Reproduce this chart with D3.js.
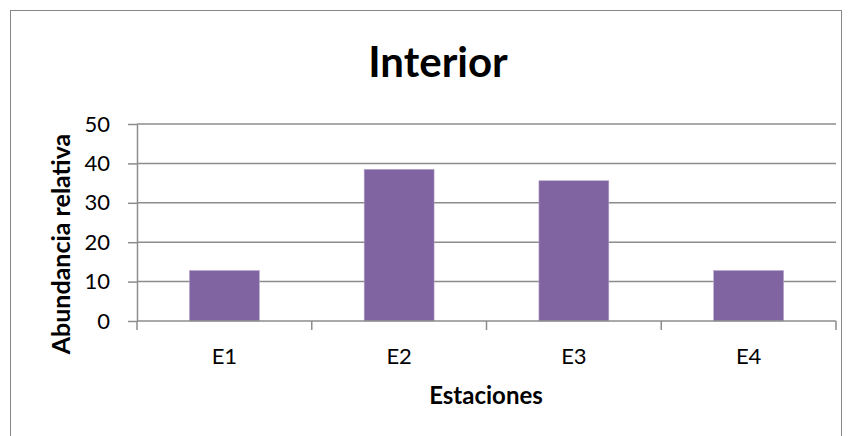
<!DOCTYPE html>
<html>
<head>
<meta charset="utf-8">
<script src="https://cdn.jsdelivr.net/npm/d3@7"></script>
<style>
  html, body { margin: 0; padding: 0; background: #fff; }
  svg { display: block; }
</style>
</head>
<body>
<svg id="chart" width="852" height="436"></svg>
<script>
// Relative abundance per station
const estaciones = ["E1", "E2", "E3", "E4"];
const abundancia = [12.8, 38.5, 35.6, 12.8];
const yTicks = [0, 10, 20, 30, 40, 50];

const svg = d3.select("#chart");
const plot = { left: 137, right: 836, top: 124, bottom: 321 };
const FONT = "Lato, 'Open Sans', sans-serif";
const AXIS = "#8c8c8c";

// Outer chart frame (bottom edge runs off the page)
svg.append("rect")
  .attr("x", 10.5).attr("y", 10.5)
  .attr("width", 831).attr("height", 440)
  .attr("fill", "#fff")
  .attr("stroke", "#868686").attr("stroke-width", 1);

const x = d3.scaleBand()
  .domain(estaciones)
  .range([plot.left, plot.right])
  .paddingInner(0.6).paddingOuter(0.3);

const y = d3.scaleLinear()
  .domain([0, 50])
  .range([plot.bottom, plot.top]);

// Horizontal gridlines
svg.append("g")
  .selectAll("line")
  .data(yTicks.filter(d => d > 0))
  .join("line")
  .attr("x1", plot.left).attr("x2", plot.right)
  .attr("y1", d => y(d)).attr("y2", d => y(d))
  .attr("stroke", AXIS).attr("stroke-width", 1.5);

// Bars
svg.append("g")
  .selectAll("rect")
  .data(abundancia)
  .join("rect")
  .attr("x", (d, i) => x(estaciones[i]))
  .attr("y", d => y(d))
  .attr("width", x.bandwidth())
  .attr("height", d => y(0) - y(d))
  .attr("fill", "#8064a2")
  .attr("stroke", "#b7a6cc").attr("stroke-width", 0.6);

// Y axis
const yAxis = d3.axisLeft(y).tickValues(yTicks).tickSize(9).tickSizeOuter(0).tickPadding(18);
const gy = svg.append("g")
  .attr("transform", `translate(${plot.left},0)`)
  .call(yAxis);
gy.select(".domain").attr("stroke", AXIS).attr("stroke-width", 1.5);
gy.selectAll(".tick line").attr("stroke", AXIS).attr("stroke-width", 1.5);
gy.selectAll(".tick text")
  .attr("font-family", FONT)
  .attr("font-size", 22).attr("fill", "#000");

// X axis: ticks at category boundaries, labels centred in each band
const step = (plot.right - plot.left) / estaciones.length;
const gx = svg.append("g");
gx.append("line")
  .attr("x1", plot.left).attr("x2", plot.right)
  .attr("y1", plot.bottom).attr("y2", plot.bottom)
  .attr("stroke", AXIS).attr("stroke-width", 1.5);
gx.selectAll("line.tk")
  .data(d3.range(estaciones.length + 1))
  .join("line")
  .attr("class", "tk")
  .attr("x1", i => plot.left + i * step).attr("x2", i => plot.left + i * step)
  .attr("y1", plot.bottom).attr("y2", plot.bottom + 9)
  .attr("stroke", AXIS).attr("stroke-width", 1.5);
gx.selectAll("text")
  .data(estaciones)
  .join("text")
  .attr("x", d => x(d) + x.bandwidth() / 2)
  .attr("y", 364)
  .attr("text-anchor", "middle")
  .attr("font-family", FONT)
  .attr("font-size", 22).attr("fill", "#000")
  .text(d => d);

// Title
svg.append("text")
  .attr("x", 438).attr("y", 77)
  .attr("text-anchor", "middle")
  .attr("font-family", FONT)
  .attr("font-weight", "bold")
  .attr("font-size", 42).attr("fill", "#000")
  .text("Interior");

// Axis titles
svg.append("text")
  .attr("x", 486).attr("y", 404)
  .attr("text-anchor", "middle")
  .attr("font-family", FONT)
  .attr("font-weight", "bold")
  .attr("font-size", 24).attr("fill", "#000")
  .text("Estaciones");

svg.append("text")
  .attr("transform", "translate(70,244) rotate(-90)")
  .attr("text-anchor", "middle")
  .attr("font-family", FONT)
  .attr("font-weight", "bold")
  .attr("font-size", 25).attr("fill", "#000")
  .text("Abundancia relativa");
</script>
</body>
</html>
